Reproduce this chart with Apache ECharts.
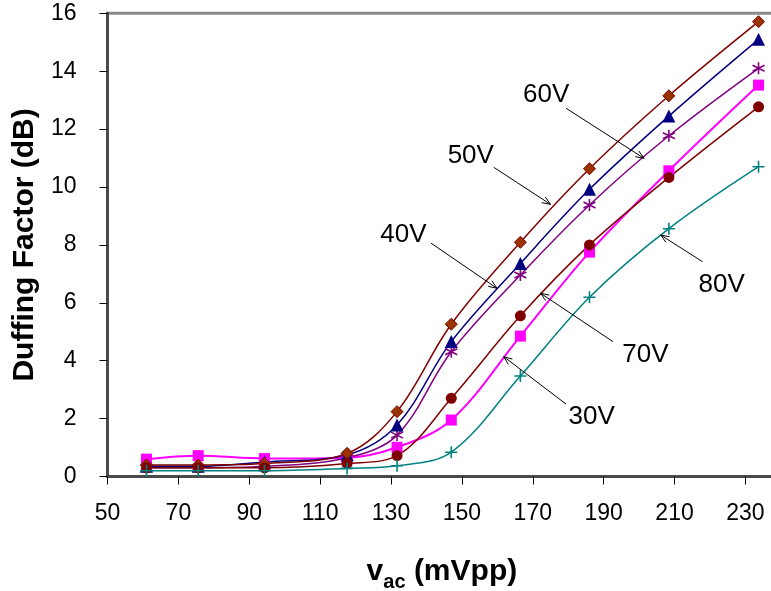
<!DOCTYPE html>
<html>
<head>
<meta charset="utf-8">
<script src="https://cdn.jsdelivr.net/npm/echarts@6/dist/echarts.min.js"></script>
<style>
  html, body { margin: 0; padding: 0; background: #fff; }
  #chart { width: 771px; height: 591px; }
</style>
</head>
<body>
<div id="chart"></div>
<script>
// Drive amplitude (mVpp) at which the Duffing factor was measured
const vac = [61, 75.6, 94.3, 117.6, 131.7, 147, 166.5, 186, 208.4, 233.7];

// Duffing factor (dB) for each DC bias voltage
const dufV30 = [0.60, 0.72, 0.62, 0.65, 1.01, 1.95, 4.85, 7.75, 10.56, 13.52];
const dufV40 = [0.35, 0.35, 0.50, 0.75, 1.78, 4.66, 7.36, 9.92, 12.45, 15.10];
const dufV50 = [0.40, 0.40, 0.45, 0.80, 2.24, 5.26, 8.09, 10.63, 13.15, 15.71];
const dufV60 = [0.30, 0.30, 0.35, 0.65, 1.43, 4.31, 6.96, 9.38, 11.77, 14.10];
const dufV70 = [0.30, 0.30, 0.30, 0.45, 0.72, 2.70, 5.55, 8.00, 10.33, 12.77];
const dufV80 = [0.20, 0.20, 0.20, 0.28, 0.37, 0.84, 3.47, 6.19, 8.56, 10.70];

// Callout labels with anchor points in data units (vac, dB)
const calloutLabels = ['60V', '50V', '40V', '70V', '30V', '80V'];
const calloutTextAt = [[173.8, 13.18], [152.5, 11.07], [133.5, 8.34], [201.8, 4.21], [186.6, 2.06], [223.3, 6.61]];
const calloutFrom   = [[179.4, 12.72], [159.0, 10.68], [141.3, 8.06], [192.6, 4.66], [179.4, 2.50], [217.9, 7.42]];
const calloutTo     = [[201.4, 10.99], [175.0, 9.40], [159.9, 6.50], [172.2, 6.33], [161.8, 4.14], [206.1, 8.34]];

const FONT = '"Liberation Sans", Arial, Helvetica, sans-serif';

const pair = ys => vac.map((x, i) => [x, ys[i]]);

const starPath = 'path://M0,-6L0,6M-5.2,-3L5.2,3M-5.2,3L5.2,-3';
const plusPath = 'path://M0,-6L0,6M-6,0L6,0';

function lineSeries(name, ys, color, symbol, size, item, width) {
  return {
    name, type: 'line', data: pair(ys), smooth: 0.35,
    symbol, symbolSize: size,
    lineStyle: { color, width: width || 1.5 },
    itemStyle: item,
    z: 3
  };
}

const chart = echarts.init(document.getElementById('chart'), null, { renderer: 'canvas' });

chart.setOption({
  animation: false,
  backgroundColor: '#fff',
  grid: {
    left: 107.5, top: 13.3, right: -45.3, bottom: 114.5,
    outerBoundsMode: 'none', containLabel: false,
    show: true, borderColor: '#8a8a8a', borderWidth: 3, backgroundColor: 'transparent'
  },
  xAxis: {
    type: 'value', min: 50, max: 250, interval: 20,
    axisLine: { show: true, lineStyle: { color: '#4a4a4a', width: 3 } },
    axisTick: { show: true, inside: false, length: 8, lineStyle: { color: '#000', width: 1 } },
    splitLine: { show: false },
    axisLabel: { margin: 26, color: '#000', fontFamily: FONT, fontSize: 23, hideOverlap: false },
    name: '{v|v}{s|ac}{t| (mVpp)}',
    nameLocation: 'middle', nameGap: 80,
    nameTextStyle: {
      padding: [0, 40, 0, 0],
      rich: {
        v: { fontFamily: FONT, fontWeight: 'bold', fontSize: 30, color: '#000', padding: [0, 0, 6, 0], verticalAlign: 'bottom' },
        s: { fontFamily: FONT, fontWeight: 'bold', fontSize: 20, color: '#000', verticalAlign: 'bottom' },
        t: { fontFamily: FONT, fontWeight: 'bold', fontSize: 30, color: '#000', padding: [0, 0, 6, 0], verticalAlign: 'bottom' }
      }
    }
  },
  yAxis: {
    type: 'value', min: 0, max: 16, interval: 2,
    axisLine: { show: true, lineStyle: { color: '#4a4a4a', width: 3 } },
    axisTick: { show: true, inside: false, length: 8, lineStyle: { color: '#000', width: 1 } },
    splitLine: { show: false },
    axisLabel: { margin: 31, color: '#000', fontFamily: FONT, fontSize: 23 },
    name: 'Duffing Factor (dB)',
    nameLocation: 'middle', nameGap: 63,
    nameTextStyle: { fontFamily: FONT, fontWeight: 'bold', fontSize: 30, color: '#000' }
  },
  series: [
    lineSeries('30V', dufV30, '#ff00ff', 'rect', 11, { color: '#ff00ff' }, 2),
    lineSeries('60V', dufV60, '#800080', starPath, 12, { color: '#800080', borderColor: '#800080', borderWidth: 1.6 }),
    lineSeries('40V', dufV40, '#000080', 'triangle', 13, { color: '#000080' }),
    lineSeries('50V', dufV50, '#800000', 'diamond', 12, { color: '#993300', borderColor: '#800000', borderWidth: 1 }),
    lineSeries('70V', dufV70, '#800000', 'circle', 11, { color: '#800000' }),
    lineSeries('80V', dufV80, '#008080', plusPath, 12, { color: '#008080', borderColor: '#008080', borderWidth: 1.6 }),
    {
      name: 'callouts', type: 'custom', z: 5,
      data: calloutTextAt,
      renderItem(params, api) {
        const i = params.dataIndex;
        const t = api.coord(calloutTextAt[i]);
        const p0 = api.coord(calloutFrom[i]);
        const p1 = api.coord(calloutTo[i]);
        const ang = Math.atan2(p1[1] - p0[1], p1[0] - p0[0]);
        const L = 9, w = 0.38;
        const h1 = [p1[0] - L * Math.cos(ang - w), p1[1] - L * Math.sin(ang - w)];
        const h2 = [p1[0] - L * Math.cos(ang + w), p1[1] - L * Math.sin(ang + w)];
        return {
          type: 'group',
          children: [
            { type: 'line', shape: { x1: p0[0], y1: p0[1], x2: p1[0], y2: p1[1] },
              style: { stroke: '#000', lineWidth: 1 } },
            { type: 'polyline', shape: { points: [h1, p1, h2] },
              style: { stroke: '#000', fill: null, lineWidth: 1 } },
            { type: 'text',
              style: { text: calloutLabels[i], x: t[0], y: t[1], align: 'center', verticalAlign: 'middle',
                       fontFamily: FONT, fontSize: 26, fill: '#000' } }
          ]
        };
      }
    }
  ]
});
</script>
</body>
</html>
